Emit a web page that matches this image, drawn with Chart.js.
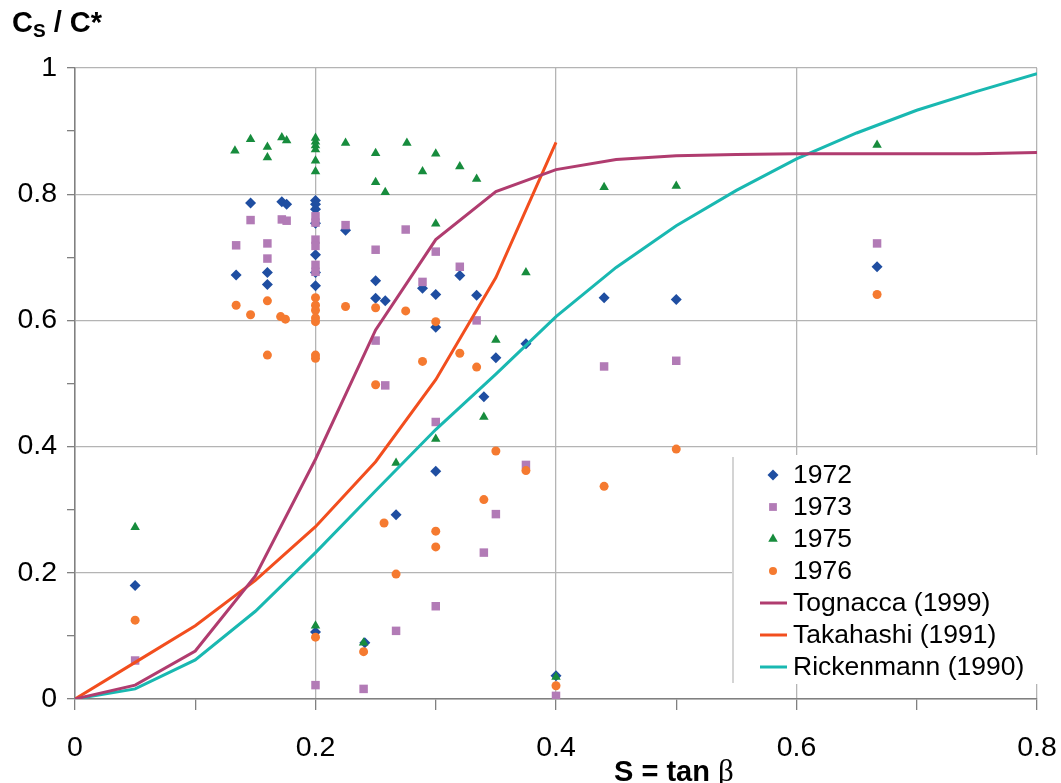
<!DOCTYPE html>
<html>
<head>
<meta charset="utf-8">
<script src="https://cdn.jsdelivr.net/npm/chart.js@4.4.0/dist/chart.umd.min.js"></script>
<style>
html, body { margin: 0; padding: 0; background: #fff; }
</style>
</head>
<body>
<canvas id="csChart" width="1061" height="783"></canvas>
<script>
// x, y pairs
const s1972 = [[0.05,0.18],[0.134,0.672],[0.146,0.786],[0.16,0.676],[0.16,0.657],[0.172,0.788],[0.176,0.784],
  [0.2,0.790],[0.2,0.784],[0.2,0.776],[0.2,0.754],[0.2,0.704],[0.2,0.676],[0.2,0.655],[0.2,0.106],[0.225,0.743],
  [0.241,0.089],[0.25,0.663],[0.25,0.635],[0.258,0.631],[0.267,0.292],[0.289,0.651],[0.3,0.641],[0.3,0.589],
  [0.3,0.361],[0.32,0.671],[0.334,0.640],[0.34,0.479],[0.35,0.541],[0.375,0.563],[0.4,0.037],[0.44,0.636],
  [0.5,0.633],[0.667,0.685]];
const s1973 = [[0.05,0.061],[0.134,0.719],[0.146,0.759],[0.16,0.722],[0.16,0.698],[0.172,0.760],[0.176,0.758],
  [0.2,0.765],[0.2,0.755],[0.2,0.728],[0.2,0.718],[0.2,0.688],[0.2,0.677],[0.2,0.022],[0.225,0.751],[0.24,0.016],
  [0.25,0.712],[0.25,0.568],[0.258,0.497],[0.267,0.108],[0.275,0.744],[0.289,0.661],[0.3,0.709],[0.3,0.439],
  [0.3,0.147],[0.32,0.685],[0.334,0.600],[0.34,0.232],[0.35,0.293],[0.375,0.371],[0.4,0.005],[0.44,0.527],
  [0.5,0.536],[0.667,0.722]];
const s1975 = [[0.05,0.272],[0.133,0.869],[0.146,0.887],[0.16,0.875],[0.16,0.858],[0.172,0.890],[0.176,0.885],
  [0.2,0.889],[0.2,0.883],[0.2,0.877],[0.2,0.871],[0.2,0.853],[0.2,0.836],[0.2,0.116],[0.225,0.881],[0.24,0.089],
  [0.25,0.865],[0.25,0.819],[0.258,0.803],[0.267,0.374],[0.276,0.881],[0.289,0.836],[0.3,0.864],[0.3,0.753],
  [0.3,0.412],[0.32,0.844],[0.334,0.824],[0.34,0.447],[0.35,0.569],[0.375,0.676],[0.4,0.035],[0.44,0.811],
  [0.5,0.813],[0.667,0.878]];
const s1976 = [[0.05,0.125],[0.134,0.624],[0.146,0.609],[0.16,0.631],[0.16,0.545],[0.171,0.606],[0.175,0.602],
  [0.2,0.636],[0.2,0.624],[0.2,0.616],[0.2,0.604],[0.2,0.598],[0.2,0.545],[0.2,0.540],[0.2,0.098],[0.225,0.622],
  [0.24,0.075],[0.25,0.620],[0.25,0.498],[0.257,0.279],[0.267,0.198],[0.275,0.615],[0.289,0.535],[0.3,0.598],
  [0.3,0.266],[0.3,0.241],[0.32,0.548],[0.334,0.526],[0.34,0.316],[0.35,0.393],[0.375,0.362],[0.4,0.021],
  [0.44,0.337],[0.5,0.396],[0.667,0.641]];

const curveX = [0,0.05,0.1,0.15,0.2,0.25,0.3,0.35,0.4,0.45,0.5,0.55,0.6,0.65,0.7,0.75,0.8];
const tognacca = [0,0.022,0.076,0.195,0.38,0.585,0.728,0.804,0.839,0.855,0.861,0.863,0.864,0.864,0.864,0.864,0.866];
const takahashiX = [0,0.05,0.1,0.15,0.2,0.25,0.3,0.35,0.4];
const takahashi = [0,0.058,0.116,0.188,0.273,0.376,0.506,0.668,0.882];
const rickenmann = [0,0.016,0.062,0.139,0.232,0.33,0.427,0.515,0.606,0.684,0.75,0.806,0.856,0.897,0.933,0.963,0.991];

const pts = arr => arr.map(p => ({x: p[0], y: p[1]}));
const curve = (xs, ys) => xs.map((x, i) => ({x: x, y: ys[i]}));

const FONT = 'Arial, "Liberation Sans", sans-serif';
const isMajor = v => Math.round(v * 10) % 2 === 0;
const fmt = v => {
    const r = Math.round(v * 10) / 10;
    if (!isMajor(v)) return '';
    return (r === 0 || r === 1) ? String(r) : r.toFixed(1);
};

function drawMarker(ctx, style, x, y, r)
{
    ctx.beginPath();
    if (style === 'rectRot') {
        ctx.moveTo(x, y - r); ctx.lineTo(x + r, y); ctx.lineTo(x, y + r); ctx.lineTo(x - r, y);
    } else if (style === 'rect') {
        const s = r * Math.SQRT1_2;
        ctx.rect(x - s, y - s, 2 * s, 2 * s);
    } else if (style === 'triangle') {
        ctx.moveTo(x, y - r); ctx.lineTo(x + r * 0.866, y + r * 0.5); ctx.lineTo(x - r * 0.866, y + r * 0.5);
    } else {
        ctx.arc(x, y, r, 0, Math.PI * 2);
    }
    ctx.closePath();
    ctx.fill();
}

const boxLegend = {
    id: 'boxLegend',
    afterDatasetsDraw(chart) {
        const ctx = chart.ctx;
        ctx.save();
        ctx.fillStyle = '#ffffff';
        ctx.fillRect(733, 455, 309, 229);
        ctx.strokeStyle = '#d4d4d4';
        ctx.lineWidth = 2;
        ctx.beginPath(); ctx.moveTo(733, 457); ctx.lineTo(733, 683); ctx.stroke();
        ctx.font = '26.5px ' + FONT;
        ctx.textBaseline = 'middle';
        ctx.fillStyle = '#000';
        const rowY = [475, 507, 539, 571, 603, 635, 667];
        chart.data.datasets.forEach((ds, i) => {
            const y = rowY[i];
            if (ds.showLine) {
                ctx.strokeStyle = ds.borderColor;
                ctx.lineWidth = 3;
                ctx.beginPath(); ctx.moveTo(760, y); ctx.lineTo(787, y); ctx.stroke();
            } else {
                ctx.fillStyle = ds.backgroundColor;
                drawMarker(ctx, ds.pointStyle, 773, y, ds.pointStyle === 'circle' ? 4 : 5.5);
            }
            ctx.fillStyle = '#000';
            ctx.fillText(ds.label, 793, y + 1);
        });
        ctx.restore();
    },
    afterDraw(chart) {
        const ctx = chart.ctx;
        ctx.save();
        ctx.fillStyle = '#000';
        ctx.textBaseline = 'alphabetic';
        // y title
        ctx.font = 'bold 29px ' + FONT;
        ctx.fillText('C', 12, 32);
        let w = ctx.measureText('C').width;
        ctx.font = 'bold 19px ' + FONT;
        ctx.fillText('S', 12 + w, 37);
        let w2 = ctx.measureText('S').width;
        ctx.font = 'bold 29px ' + FONT;
        ctx.fillText(' / C*', 12 + w + w2, 32);
        // x title
        ctx.font = 'bold 29px ' + FONT;
        ctx.fillText('S = tan ', 614, 781);
        w = ctx.measureText('S = tan ').width;
        ctx.font = '31px "Liberation Serif", "DejaVu Serif", serif';
        ctx.fillText('\u03B2', 614 + w, 781);
        ctx.restore();
    }
};

const canvas = document.getElementById('csChart');

new Chart(canvas, {
    type: 'scatter',
    data: {
        datasets: [
            { label: '1972', data: pts(s1972), pointStyle: 'rectRot', pointRadius: 5.5, backgroundColor: '#1f4ea1', borderWidth: 0, order: 4 },
            { label: '1973', data: pts(s1973), pointStyle: 'rect', pointRadius: 6, backgroundColor: '#b27bb6', borderWidth: 0, order: 3 },
            { label: '1975', data: pts(s1975), pointStyle: 'triangle', pointRadius: 5.5, backgroundColor: '#178c3d', borderWidth: 0, order: 2 },
            { label: '1976', data: pts(s1976), pointStyle: 'circle', pointRadius: 4.5, backgroundColor: '#f57a30', borderWidth: 0, order: 1 },
            { label: 'Tognacca (1999)', data: curve(curveX, tognacca), showLine: true, borderColor: '#b03c6f', borderWidth: 3, pointRadius: 0, order: 0 },
            { label: 'Takahashi (1991)', data: curve(takahashiX, takahashi), showLine: true, borderColor: '#f24e1e', borderWidth: 3, pointRadius: 0, order: 0 },
            { label: 'Rickenmann (1990)', data: curve(curveX, rickenmann), showLine: true, borderColor: '#19b8b1', borderWidth: 3, pointRadius: 0, order: 0 }
        ]
    },
    options: {
        responsive: false,
        animation: false,
        devicePixelRatio: 1,
        layout: { padding: { top: 68, right: 24, left: 0, bottom: 0 } },
        plugins: {
            legend: { display: false },
            tooltip: { enabled: false }
        },
        scales: {
            x: {
                type: 'linear',
                min: 0,
                max: 0.8,
                afterFit: s => { s.height = 84; s.paddingLeft = 0; s.paddingRight = 0; },
                afterBuildTicks: s => { s.ticks = [0,1,2,3,4,5,6,7,8].map(i => ({ value: i / 10 })); },
                border: { color: '#808080', width: 1.5 },
                grid: {
                    color: c => (c.tick && isMajor(c.tick.value)) ? '#b4b4b4' : 'rgba(0,0,0,0)',
                    tickColor: '#808080',
                    lineWidth: 1.3,
                    tickLength: 11
                },
                ticks: {
                    autoSkip: false,
                    maxRotation: 0,
                    padding: 21,
                    color: '#000',
                    font: { family: FONT, size: 28.5 },
                    callback: v => fmt(v)
                }
            },
            y: {
                type: 'linear',
                min: 0,
                max: 1,
                afterFit: s => { s.width = 75; s.paddingTop = 0; s.paddingBottom = 0; },
                afterBuildTicks: s => { s.ticks = [0,1,2,3,4,5,6,7,8,9,10].map(i => ({ value: i / 10 })); },
                border: { color: '#808080', width: 1.5 },
                grid: {
                    color: c => (c.tick && isMajor(c.tick.value)) ? '#b4b4b4' : 'rgba(0,0,0,0)',
                    tickColor: '#808080',
                    lineWidth: 1.3,
                    tickLength: 8
                },
                ticks: {
                    autoSkip: false,
                    padding: 10,
                    color: '#000',
                    font: { family: FONT, size: 28.5 },
                    callback: v => fmt(v)
                }
            }
        }
    },
    plugins: [boxLegend]
});
</script>
</body>
</html>
